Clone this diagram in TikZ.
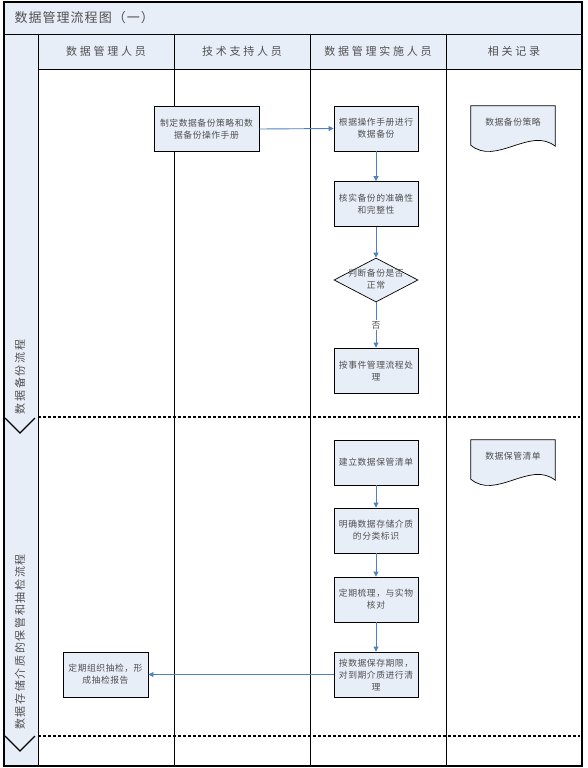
\documentclass[tikz,border=0pt]{standalone}
\usepackage{fontspec}
\setmainfont{Noto Sans CJK SC}
\newfontfamily\nodefont{Noto Sans CJK SC}[LetterSpace=6]
\newfontfamily\hdrfont{Noto Sans CJK SC}[LetterSpace=25]
\newfontfamily\lanefont{Noto Sans CJK SC}[LetterSpace=15]
\newfontfamily\ttlfont{Noto Sans CJK SC}[LetterSpace=8]
\usetikzlibrary{shapes.geometric,arrows.meta}
\definecolor{fillb}{HTML}{E8EEF8}
\definecolor{arr}{HTML}{4F81BD}
\definecolor{txt}{HTML}{505050}
\tikzset{
  proc/.style={draw=black,line width=0.9pt,fill=fillb,minimum width=84pt,minimum height=45pt,align=center,font=\nodefont\fontsize{8.8}{12}\selectfont,text=txt,inner sep=1pt},
  dec/.style={draw=black,line width=0.7pt,fill=fillb,diamond,minimum width=84pt,minimum height=44pt,inner sep=0pt},
  dectext/.style={align=center,font=\nodefont\fontsize{8.8}{12}\selectfont,text=txt,inner sep=0pt},
  docbox/.style={minimum width=84pt,minimum height=44pt,inner sep=0pt},
  doctext/.style={font=\nodefont\fontsize{8.8}{12}\selectfont,text=txt},
  flow/.style={draw=arr,line width=0.9pt,-{Triangle[length=5pt,width=5pt]}},
  lane/.style={line width=0.9pt,draw=black},
  sep/.style={line width=1.4pt,dash pattern=on 3pt off 2pt},
  hdr/.style={font=\hdrfont\fontsize{11}{12}\selectfont,text=txt},
  lanelbl/.style={rotate=90,font=\lanefont\fontsize{11}{12}\selectfont,text=txt}
}
\begin{document}
\begin{tikzpicture}[x=1pt,y=-1pt]
\useasboundingbox (0,0) rectangle (587,768);
% backgrounds
\fill[fillb] (4,2) rectangle (582,69);
\fill[fillb] (4,34) rectangle (38,766);
% grid
\draw[lane] (4,34) -- (582,34);
\draw[lane] (38,69) -- (582,69);
\foreach \x in {38,174,310,446} \draw[lane] (\x,34) -- (\x,766);
\draw[line width=1.3pt] (4,2) rectangle (582,766);
% title and headers
\node[anchor=west,font=\ttlfont\fontsize{13}{14}\selectfont,text=txt] (title) at (11,18) {数据管理流程图（一）};
\node[hdr] (h1) at (106,51) {数据管理人员};
\node[hdr] (h2) at (242,51) {技术支持人员};
\node[hdr] (h3) at (378,51) {数据管理实施人员};
\node[hdr] (h4) at (514,51) {相关记录};
% separators
\draw[sep] (38,417) -- (580,417);
\draw[sep] (38,736) -- (580,736);
\draw[line width=1.3pt] (5,418) -- (20,433) -- (35,418);
\draw[line width=1.3pt] (5,736) -- (20,751) -- (35,736);
% lane labels
\node[lanelbl] (l1) at (20,377) {数据备份流程};
\node[lanelbl] (l2) at (20,642) {数据存储介质的保管和抽检流程};
% nodes
\node[proc,minimum width=105pt] (a1) at (206.5,129) {制定数据备份策略和数\\据备份操作手册};
\node[proc] (b1) at (376,128.5) {根据操作手册进行\\数据备份};
\node[proc] (b2) at (376,204) {核实备份的准确性\\和完整性};
\node[dec] (b3) at (376,280) {};
\node[dectext] (b3t) at (376,279) {判断备份是否\\正常};
\node[proc] (b4) at (376,370.5) {按事件管理流程处\\理};
\node[proc] (c1) at (376,462.5) {建立数据保管清单};
\node[proc] (c2) at (376,530.5) {明确数据存储介质\\的分类标识};
\node[proc] (c3) at (376,599.5) {定期梳理，与实物\\核对};
\node[proc] (c4) at (376,674.5) {按数据保存期限，\\对到期介质进行清\\理};
\node[proc,minimum width=85pt] (d1) at (105.5,674.5) {定期组织抽检，形\\成抽检报告};
% documents
\node[docbox] (r1) at (513,128) {};
\draw[line width=0.7pt,fill=fillb] (r1.north west) -- (r1.north east) -- ([yshift=4pt]r1.south east)
  .. controls ([xshift=-25pt,yshift=24pt]r1.south east) and ([xshift=25pt,yshift=-16pt]r1.south west) .. ([yshift=5pt]r1.south west) -- cycle;
\node[doctext] (r1t) at (513,122) {数据备份策略};
\node[docbox] (r2) at (513,462) {};
\draw[line width=0.7pt,fill=fillb] (r2.north west) -- (r2.north east) -- ([yshift=4pt]r2.south east)
  .. controls ([xshift=-25pt,yshift=24pt]r2.south east) and ([xshift=25pt,yshift=-16pt]r2.south west) .. ([yshift=5pt]r2.south west) -- cycle;
\node[doctext] (r2t) at (513,456) {数据保管清单};
% flows
\draw[flow] (a1.east) -- (b1.west);
\draw[flow] (b1) -- (b2);
\draw[flow] (b2) -- (b3);
\draw[flow] (b3) -- node[fill=white,inner sep=1pt,font=\nodefont\fontsize{8.8}{9}\selectfont,text=txt,pos=0.5] {否} (b4);
\draw[flow] (c1) -- (c2);
\draw[flow] (c2) -- (c3);
\draw[flow] (c3) -- (c4);
\draw[flow] (c4.west) -- (d1.east);
\end{tikzpicture}
\end{document}
